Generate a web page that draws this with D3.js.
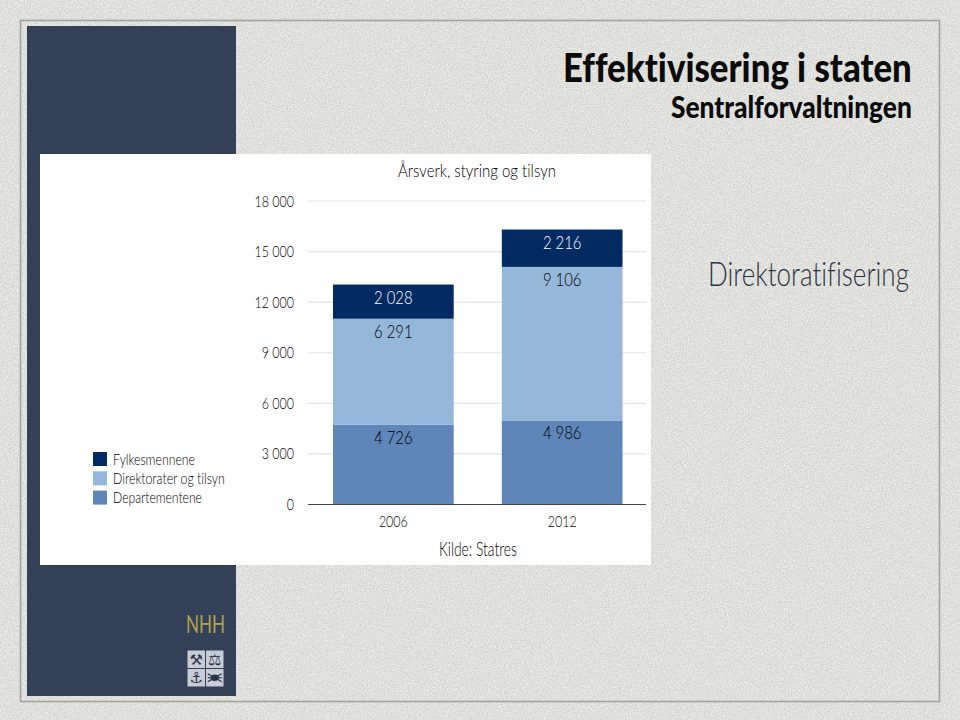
<!DOCTYPE html>
<html><head><meta charset="utf-8">
<script src="https://cdnjs.cloudflare.com/ajax/libs/d3/7.8.5/d3.min.js"></script>
<style>
html,body{margin:0;padding:0;background:#dcdcd8;overflow:hidden}
svg{display:block}
text{font-family:"Lato","Liberation Sans",sans-serif;font-weight:300;fill:#000;font-variant-ligatures:none}
</style></head><body><div id="c"></div>
<script>
const categories = ["2006","2012"];
const seriesNames = ["Departementene","Direktorater og tilsyn","Fylkesmennene"];
const departementene = [4726,4986];
const direktorater = [6291,9106];
const fylkesmennene = [2028,2216];
const yTicks = [0,3000,6000,9000,12000,15000,18000];
const legendOrder = ["Fylkesmennene","Direktorater og tilsyn","Departementene"];
const legendWidths = [82,112,89];
const colors = {"Departementene":"#5f86b9","Direktorater og tilsyn":"#95b7da","Fylkesmennene":"#032b63"};
const valueColors = {"Departementene":"#000","Direktorater og tilsyn":"#000","Fylkesmennene":"#fff"};

const fmt = v => d3.format(",")(v).replace(/,/g," ");
const svg = d3.select("#c").append("svg").attr("width",960).attr("height",720);
const defs = svg.append("defs");
const f = defs.append("filter").attr("id","paper").attr("x",0).attr("y",0).attr("width","100%").attr("height","100%");
f.append("feTurbulence").attr("type","fractalNoise").attr("baseFrequency",0.7).attr("numOctaves",4).attr("seed",4);
f.append("feColorMatrix").attr("values","0 0 0 0 0.91  0 0 0 0 0.91  0 0 0 0 0.89  1.1 1.1 0 0 -0.75");
f.append("feComposite").attr("in2","SourceGraphic").attr("operator","over");

svg.append("rect").attr("width",960).attr("height",720).attr("fill","#d3d3cf");
svg.append("rect").attr("width",960).attr("height",720).attr("fill","#d3d3cf").attr("filter","url(#paper)");
svg.append("rect").attr("x",20.5).attr("y",20.5).attr("width",919).attr("height",681).attr("fill","none").attr("stroke","#a3a3a0").attr("stroke-width",1.6);
svg.append("rect").attr("x",27).attr("y",26).attr("width",209).attr("height",670).attr("fill","#334058");
svg.append("rect").attr("x",40).attr("y",154).attr("width",611).attr("height",411).attr("fill","#fff");

// squeeze text horizontally with a transform so that its box stays its drawn size
const squeeze = (el,k) => {
  const xx=+el.getAttribute("x")||0, yy=+el.getAttribute("y")||0;
  el.setAttribute("x",0); el.setAttribute("y",0);
  el.setAttribute("transform",`translate(${xx},${yy}) scale(${k},1)`);
};
const fit = (s,len) => s.each(function(){ squeeze(this,len/this.getComputedTextLength()); });
const narrow = (s,k) => s.each(function(){ squeeze(this,k); });

// Headings
fit(svg.append("text").attr("x",563).attr("y",82).attr("font-size",40)
  .style("font-weight",900).style("fill","#0b0b0b").text("Effektivisering i staten"),349);
fit(svg.append("text").attr("x",671).attr("y",118).attr("font-size",30)
  .style("font-weight",900).style("fill","#0b0b0b").text("Sentralforvaltningen"),241);
fit(svg.append("text").attr("x",708).attr("y",286).attr("font-size",34).style("fill","#2b3345").text("Direktoratifisering"),201);

// Chart
const y = d3.scaleLinear().domain([0,18000]).range([504.5,201]);
const x = d3.scaleBand().domain(categories).range([308.5,647]).paddingInner(0.285).paddingOuter(0.145);
const xLeft=308,xRight=646;

const g = svg.append("g");
g.append("g").selectAll("line").data(yTicks.filter(d=>d>0)).join("line")
  .attr("x1",xLeft).attr("x2",xRight).attr("y1",d=>y(d)).attr("y2",d=>y(d))
  .attr("stroke","#e3e3e3").attr("stroke-width",1.2);
narrow(g.append("g").selectAll("text").data(yTicks).join("text")
  .attr("x",294).attr("y",d=>y(d)+5.5).attr("text-anchor","end").attr("font-size",16).text(fmt),0.78);

const rows = categories.map((c,i)=>({cat:c,"Departementene":departementene[i],"Direktorater og tilsyn":direktorater[i],"Fylkesmennene":fylkesmennene[i]}));
const stacked = d3.stack().keys(seriesNames)(rows);
const layer = g.selectAll("g.layer").data(stacked).join("g").attr("class","layer");
layer.selectAll("rect").data(d=>d).join("rect")
  .attr("x",d=>x(d.data.cat)).attr("width",x.bandwidth())
  .attr("y",d=>y(d[1])).attr("height",d=>y(d[0])-y(d[1]))
  .attr("fill",function(){return colors[d3.select(this.parentNode).datum().key]});
narrow(layer.selectAll("text").data(d=>d).join("text")
  .attr("x",d=>x(d.data.cat)+x.bandwidth()/2).attr("y",d=>y(d[1])+19)
  .attr("text-anchor","middle").attr("font-size",17.5)
  .style("fill",function(){return valueColors[d3.select(this.parentNode).datum().key]})
  .text(function(d){return fmt(d[1]-d[0])}),0.85);

g.append("line").attr("x1",xLeft).attr("x2",xRight).attr("y1",y(0)).attr("y2",y(0)).attr("stroke","#444").attr("stroke-width",1.2);
narrow(g.append("g").selectAll("text").data(categories).join("text")
  .attr("x",d=>x(d)+x.bandwidth()/2).attr("y",527).attr("text-anchor","middle").attr("font-size",16).text(d=>d),0.78);

fit(svg.append("text").attr("x",398).attr("y",177).attr("font-size",18.5).text("Årsverk, styring og tilsyn"),158);
fit(svg.append("text").attr("x",439).attr("y",556).attr("font-size",19).text("Kilde: Statres"),78);

// Legend
const lg = svg.append("g").selectAll("g").data(legendOrder).join("g")
  .attr("transform",(d,i)=>`translate(93,${452+i*19.3})`);
lg.append("rect").attr("width",14).attr("height",14).attr("fill",d=>colors[d]);
lg.append("text").attr("x",20).attr("y",12.5).attr("font-size",16).text(d=>d)
  .each(function(d,i){ squeeze(this,legendWidths[i]/this.getComputedTextLength()); });

// Logo
fit(svg.append("text").attr("x",186).attr("y",633).attr("font-size",25)
  .style("font-weight",400).style("fill","#b3a44e").text("NHH"),39);
const logoGlyphs = ["⚒","⚖","⚓",""];
const lc = svg.append("g").selectAll("g").data(logoGlyphs).join("g")
  .attr("transform",(d,i)=>`translate(${187.5+(i%2)*18.5},${650.5+Math.floor(i/2)*18.5})`);
lc.append("rect").attr("width",17.5).attr("height",17.5).attr("fill","#c8ccd4");
lc.append("text").attr("x",8.75).attr("y",14).attr("text-anchor","middle").attr("font-size",15)
  .style("font-family","'DejaVu Sans'").style("font-weight",400).style("fill","#2a3448").text(d=>d);
// crab emblem in the fourth cell
const crab = lc.filter((d,i)=>i===3).append("g").attr("transform","translate(8.75,8.75)")
  .attr("stroke","#2a3448").attr("stroke-width",1.2).attr("fill","none");
crab.append("ellipse").attr("rx",3.6).attr("ry",2.6).attr("fill","#2a3448");
[[-7,-4],[7,-4],[-7,0],[7,0],[-7,4],[7,4]].forEach(p=>crab.append("line").attr("x1",0).attr("y1",0).attr("x2",p[0]).attr("y2",p[1]));
</script></body></html>
